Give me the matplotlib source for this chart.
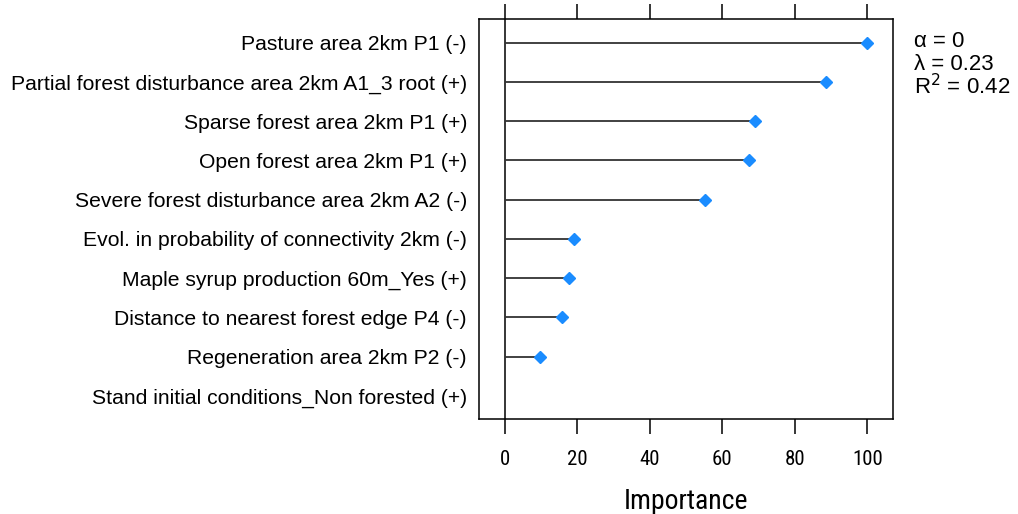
import numpy as np
import matplotlib.pyplot as plt

# variable importance, top to bottom as in the plot
labels = [
    'Pasture area 2km P1 (-)',
    'Partial forest disturbance area 2km A1_3 root (+)',
    'Sparse forest area 2km P1 (+)',
    'Open forest area 2km P1 (+)',
    'Severe forest disturbance area 2km A2 (-)',
    'Evol. in probability of connectivity 2km (-)',
    'Maple syrup production 60m_Yes (+)',
    'Distance to nearest forest edge P4 (-)',
    'Regeneration area 2km P2 (-)',
    'Stand initial conditions_Non forested (+)',
]
importance = np.array([100, 88.6, 69.0, 67.3, 55.2, 19.1, 17.6, 15.8, 9.6, 0])
xticks = [0, 20, 40, 60, 80, 100]
stats = ['α = 0', 'λ = 0.23', 'R$^2$ = 0.42']

pos = np.arange(len(labels), 0, -1)
narrow = ['Roboto Condensed', 'Liberation Sans']

fig = plt.figure(figsize=(10.18, 5.14), dpi=100)
ax = fig.add_axes([0.471, 0.1842, 0.406, 0.7783])

ax.axvline(0, color='black', lw=1.1, zorder=1)
ax.hlines(pos, 0, importance, color='#333333', lw=1.3, zorder=2)
# zero importance gets no marker in the original
nz = importance > 0
ax.plot(importance[nz], pos[nz], 'D', color='#1a8cff', ms=6, mec='#1a8cff', zorder=3)

ax.set_xlim(-7, 107)
ax.set_ylim(0.4, len(labels) + 0.6)
ax.set_yticks(pos)
ax.set_yticklabels(labels, family='Liberation Sans', fontsize=15.2)
ax.tick_params(axis='y', length=0, pad=9)

ax.set_xticks(xticks)
ax.set_xticklabels([str(t) for t in xticks], family=narrow, fontsize=15)
ax.tick_params(axis='x', top=True, direction='out', length=11, width=1.1, pad=11)
ax.set_xlabel('Importance', family=narrow, fontsize=20, labelpad=14)

for s in ax.spines.values():
    s.set_linewidth(1.1)

for i, s in enumerate(stats):
    fig.text(914 / 1018, 1 - (41.7 + 22.5 * i) / 514, s, family='Liberation Sans',
             fontsize=16, va='center', ha='left')

fig.savefig('out.png', dpi=100)
